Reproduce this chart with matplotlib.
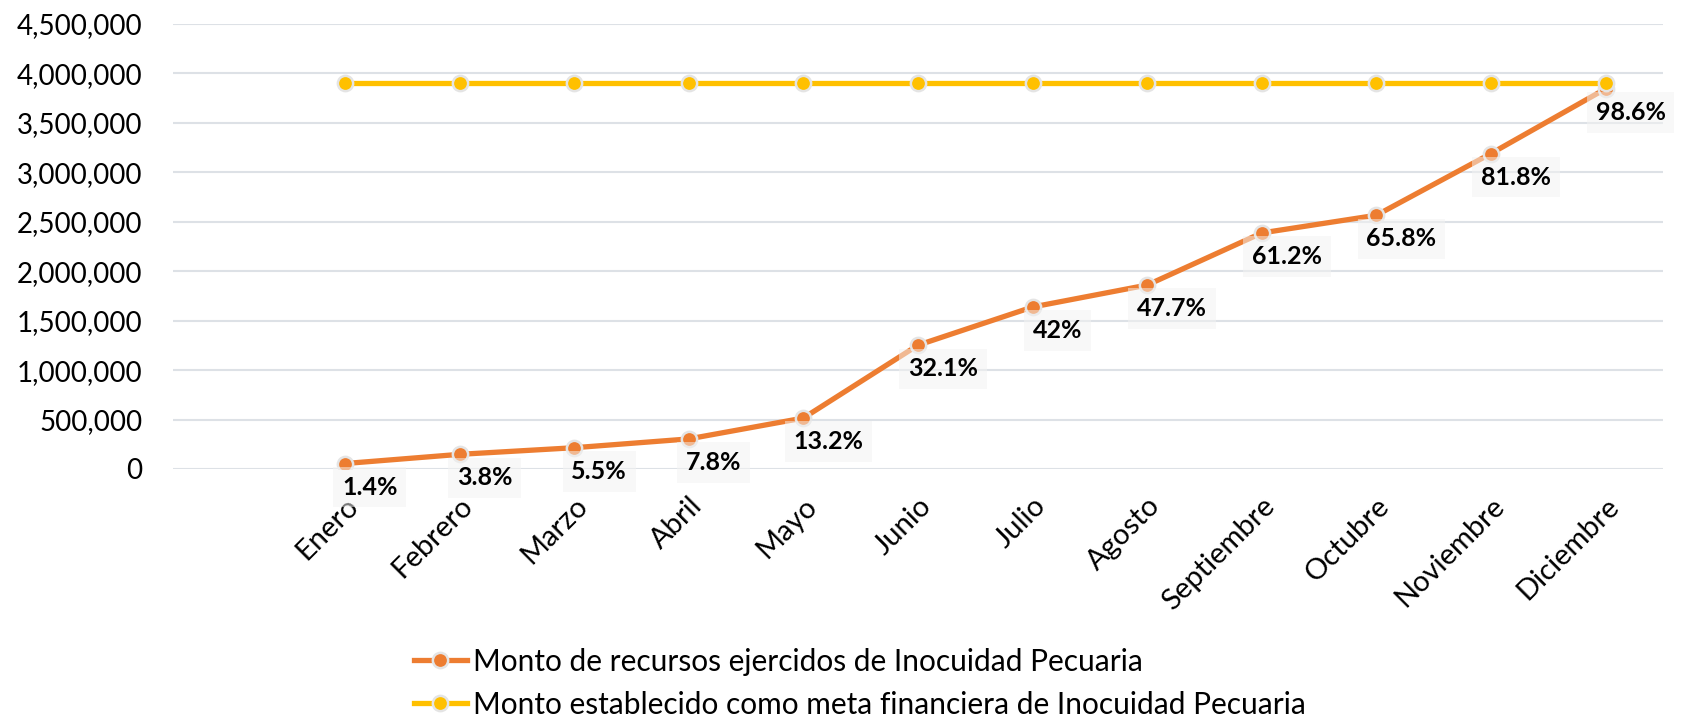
import matplotlib
matplotlib.use("Agg")
import matplotlib.pyplot as plt
from matplotlib.ticker import FuncFormatter, MultipleLocator

plt.rcParams["font.family"] = ["Lato", "DejaVu Sans"]

# datos
meses = ["Enero", "Febrero", "Marzo", "Abril", "Mayo", "Junio", "Julio",
         "Agosto", "Septiembre", "Octubre", "Noviembre", "Diciembre"]
ejercido = [55000, 148000, 215000, 304000, 515000, 1252000, 1638000,
            1860000, 2387000, 2566000, 3190000, 3845000]
meta = [3900000] * 12
etiquetas = ["1.4%", "3.8%", "5.5%", "7.8%", "13.2%", "32.1%", "42%",
             "47.7%", "61.2%", "65.8%", "81.8%", "98.6%"]

ORANGE = "#ED7D31"
YELLOW = "#FFC000"
EDGE = "#e4e4e4"

fig = plt.figure(figsize=(16.96, 7.16), dpi=100)
ax = fig.add_axes([0.102, 0.345, 0.8785, 0.6215])

x = list(range(len(meses)))
ax.plot(x, ejercido, color=ORANGE, lw=3.8, marker="o", markersize=11,
        markerfacecolor=ORANGE, markeredgecolor=EDGE, markeredgewidth=1.8,
        label="Monto de recursos ejercidos de Inocuidad Pecuaria", zorder=3)
ax.plot(x, meta, color=YELLOW, lw=3.8, marker="o", markersize=11,
        markerfacecolor=YELLOW, markeredgecolor=EDGE, markeredgewidth=1.8,
        label="Monto establecido como meta financiera de Inocuidad Pecuaria", zorder=4)

# etiquetas de porcentaje
for xi, yi, txt in zip(x, ejercido, etiquetas):
    ax.annotate(txt, (xi, yi), xytext=(18, -17), textcoords="offset points",
                ha="center", va="center", fontsize=18, fontweight="bold",
                color="black", zorder=5,
                bbox=dict(boxstyle="square,pad=0.35", facecolor="#f3f3f3",
                          edgecolor="none", alpha=0.5))

ax.set_xlim(-1.5, 11.5)
ax.set_ylim(0, 4500000)
ax.yaxis.set_major_locator(MultipleLocator(500000))
ax.yaxis.set_major_formatter(FuncFormatter(lambda v, p: f"{v:,.0f}"))
ax.grid(axis="y", color="#dde1e6", lw=1.5)
ax.set_axisbelow(True)
for s in ax.spines.values():
    s.set_visible(False)
ax.tick_params(axis="both", length=0, labelsize=20)
ax.tick_params(axis="y", pad=22)
ax.set_xticks(x)
ax.set_xticklabels(meses, rotation=45, ha="right", rotation_mode="anchor",
                   fontsize=21)
ax.tick_params(axis="x", pad=17)

fig.legend(loc="upper center", bbox_to_anchor=(0.507, 0.112), ncol=1,
           frameon=False, fontsize=21.5, handlelength=1.8, handletextpad=0.2,
           labelspacing=0.5, borderaxespad=0)

fig.savefig("out.png", dpi=100)
